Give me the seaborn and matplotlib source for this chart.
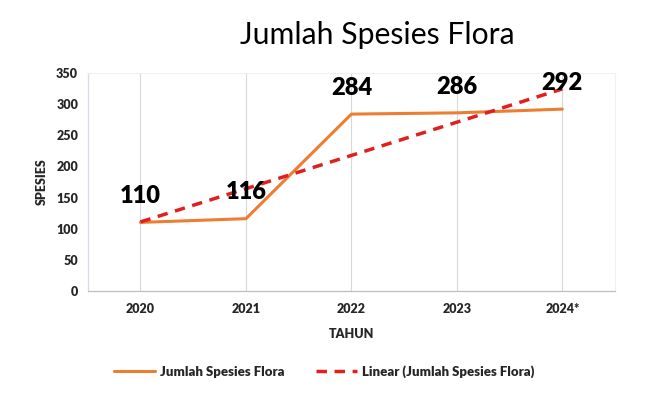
import numpy as np
import pandas as pd
import matplotlib
matplotlib.use("Agg")
import matplotlib.pyplot as plt
import seaborn as sns
from matplotlib.lines import Line2D

years = ["2020", "2021", "2022", "2023", "2024*"]
species = [110, 116, 284, 286, 292]
y_ticks = [0, 50, 100, 150, 200, 250, 300, 350]

sns.set_style("white")
plt.rcParams['font.family'] = ['Lato', 'DejaVu Sans']

df = pd.DataFrame({"Tahun": years, "Spesies": species, "idx": np.arange(len(years))})
coef = np.polyfit(df["idx"], df["Spesies"], 1)
df["Trend"] = np.polyval(coef, df["idx"])

fig = plt.figure(figsize=(6.7, 3.99), dpi=100)
ax = fig.add_axes([0.131, 0.271, 0.787, 0.546])

ax.grid(axis="x", color="#d9d9d9", linewidth=0.8)
ax.set_axisbelow(True)

sns.lineplot(data=df, x="idx", y="Spesies", ax=ax, color="#ed7d31", linewidth=2.2, zorder=3)
sns.lineplot(data=df, x="idx", y="Trend", ax=ax, color="#e0201f", linewidth=2.5,
             linestyle=(0, (3, 2.2)), zorder=4)

for i, v in zip(df["idx"], df["Spesies"]):
    ax.annotate(str(v), (i, v), xytext=(0, 11), textcoords="offset points",
                ha="center", va="bottom", fontsize=17, fontweight="heavy", color="black", zorder=5)

ax.set_xlim(-0.5, len(years) - 0.5)
ax.set_ylim(0, 350)
ax.set_yticks(y_ticks)
ax.set_xticks(df["idx"])
ax.set_xticklabels(years)
ax.tick_params(axis="x", labelsize=9, length=0, pad=9)
ax.tick_params(axis="y", labelsize=9, length=0, pad=7)
for lab in ax.get_xticklabels() + ax.get_yticklabels():
    lab.set_fontweight("heavy")
ax.set_xlabel("TAHUN", fontsize=9, fontweight="heavy", labelpad=9)
ax.set_ylabel("SPESIES", fontsize=9, fontweight="heavy", labelpad=6)

for s in ["top", "right"]:
    ax.spines[s].set_color("#f0f0f0")
    ax.spines[s].set_linewidth(0.8)
ax.spines["left"].set_color("#d6dce4")
ax.spines["bottom"].set_color("#bfbfbf")
ax.spines["left"].set_linewidth(0.9)
ax.spines["bottom"].set_linewidth(0.9)

fig.text(0.563, 0.913, "Jumlah Spesies Flora", ha="center", va="center", fontsize=21.7, color="black")

handles = [Line2D([0], [0], color="#ed7d31", linewidth=2.2),
           Line2D([0], [0], color="#e0201f", linewidth=2.5, linestyle=(0, (3, 2.2)))]
fig.legend(handles, ["Jumlah Spesies Flora", "Linear (Jumlah Spesies Flora)"],
           loc="center", bbox_to_anchor=(0.484, 0.068), ncol=2, frameon=False,
           prop={"weight": "heavy", "size": 9.5}, handlelength=3.1, columnspacing=2.4, handletextpad=0.4)

fig.savefig("out.png", dpi=100, facecolor="white")
